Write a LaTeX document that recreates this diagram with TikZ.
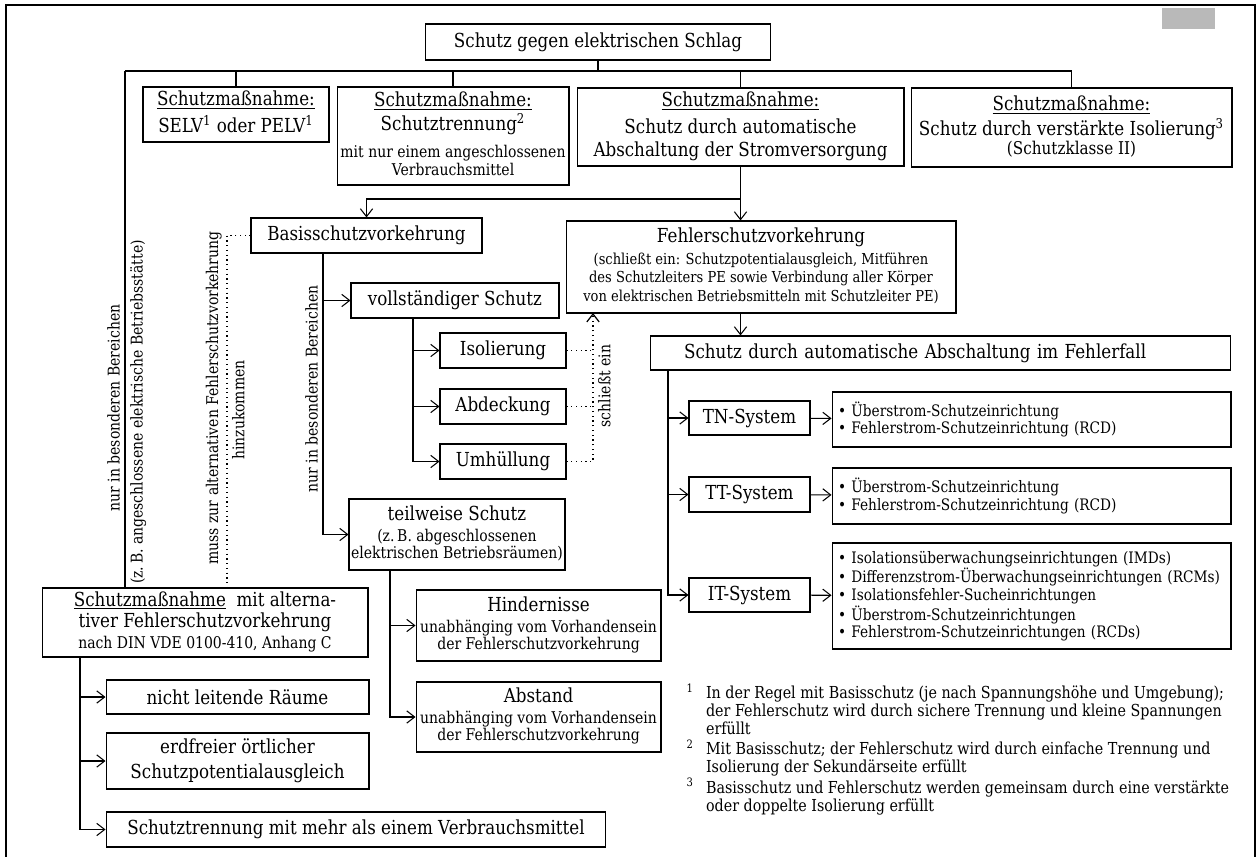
\documentclass[tikz,border=0pt]{standalone}
\usepackage{fontspec}
\setmainfont{DejaVu Serif}[FakeStretch=0.865]
\usetikzlibrary{positioning,arrows.meta}
\newcommand\mainsz{\fontsize{11}{13}\selectfont}
\newcommand\subsz{\fontsize{9.2}{10.4}\selectfont}
\newcommand\smallsz{\fontsize{8.6}{9.6}\selectfont}
\newcommand\lstsz{\fontsize{9}{9.9}\selectfont}
\newcommand\notesz{\fontsize{9.4}{9.9}\selectfont}
\newcommand\rows[1]{{\renewcommand\arraystretch{0.74}\begin{tabular}{@{}c@{}}#1\end{tabular}}}

\begin{document}
\begin{tikzpicture}[x=0.02cm, y=-0.02cm,
    >={Straight Barb[length=4.5pt,width=7pt]}, line width=0.6pt,
    box/.style={draw=black, inner sep=0pt, font=\mainsz},
    lst/.style={draw=black, text width=7.74cm, inner xsep=0.12cm, inner ysep=0pt, align=left, font=\lstsz},
    lbl/.style={rotate=90, inner sep=1.5pt, font=\subsz},
    dotline/.style={dotted, line width=0.7pt}]
    \useasboundingbox (0,0) rectangle (1257,857);
    \draw [line width=1.4pt] (6,857) -- (6,5) -- (1255,5) -- (1255,857);
    \fill [gray!55] (1162,8) rectangle (1215,29);

    % top level
    \node [box, minimum width=6.9cm, minimum height=0.72cm] (title) at (598,42) {Schutz gegen elektrischen Schlag};
    \node [box, minimum width=3.72cm, minimum height=1.1cm] (selv) at (236,114.5) {\rows{\underline{Schutzmaßnahme:}\\[3pt] SELV\textsuperscript{1} oder PELV\textsuperscript{1}}};
    \node [box, minimum width=4.64cm, minimum height=1.96cm] (trenn) at (453,136) {\rows{\underline{Schutzmaßnahme:}\\[1pt] Schutztrennung\textsuperscript{2}\\[6pt] \subsz mit nur einem angeschlossenen\\ \subsz Verbrauchsmittel}};
    \node [box, minimum width=6.54cm, minimum height=1.56cm] (auto) at (740.5,127) {\rows{\underline{Schutzmaßnahme:}\\[4pt] Schutz durch automatische\\[2pt] Abschaltung der Stromversorgung}};
    \node [box, minimum width=6.42cm, minimum height=1.58cm] (iso2) at (1071.5,127.5) {\rows{\underline{Schutzmaßnahme:}\\[2pt] Schutz durch verstärkte Isolierung\textsuperscript{3}\\ \fontsize{10}{11}\selectfont (Schutzklasse II)}};

    % basis / fehler
    \node [box, minimum width=4.62cm, minimum height=0.7cm] (basis) at (366.5,235.5) {Basisschutzvorkehrung};
    \node [box, minimum width=7.8cm, minimum height=1.84cm] (fehler) at (761,267) {\rows{Fehlerschutzvorkehrung\\[3pt] \smallsz (schließt ein: Schutzpotentialausgleich, Mitführen\\[1pt] \smallsz des Schutzleiters PE sowie Verbindung aller Körper\\[1pt] \smallsz von elektrischen Betriebsmitteln mit Schutzleiter PE)}};
    \node [box, minimum width=4.16cm, minimum height=0.7cm] (voll) at (455,300.5) {vollständiger Schutz};
    \node [box, minimum width=2.52cm, minimum height=0.7cm] (isol) at (503,350.5) {Isolierung};
    \node [box, minimum width=2.52cm, minimum height=0.7cm] (abd) at (503,406.5) {Abdeckung};
    \node [box, minimum width=2.52cm, minimum height=0.7cm] (umh) at (503,461.5) {Umhüllung};
    \node [box, minimum width=4.32cm, minimum height=1.42cm] (teil) at (457,534.5) {\rows{teilweise Schutz\\[2pt] \subsz (z.\,B. abgeschlossenen\\ \subsz elektrischen Betriebsräumen)}};
    \node [box, minimum width=4.9cm, minimum height=1.42cm] (hind) at (538.5,625.5) {\rows{Hindernisse\\[2pt] \subsz unabhänging vom Vorhandensein\\ \subsz der Fehlerschutzvorkehrung}};
    \node [box, minimum width=4.9cm, minimum height=1.4cm] (abst) at (538.5,717) {\rows{Abstand\\[2pt] \subsz unabhänging vom Vorhandensein\\ \subsz der Fehlerschutzvorkehrung}};

    % alternative
    \node [box, minimum width=6.52cm, minimum height=1.38cm] (alt) at (205,622.5) {\rows{\underline{Schutzmaßnahme}\ \ mit alterna-\\[1pt] tiver Fehlerschutzvorkehrung\\[2pt] \subsz nach DIN VDE 0100-410, Anhang C}};
    \node [box, minimum width=5.26cm, minimum height=0.68cm] (nlr) at (237.5,697) {nicht leitende Räume};
    \node [box, minimum width=5.26cm, minimum height=1.12cm] (erd) at (237.5,761) {\rows{erdfreier örtlicher\\[3pt] Schutzpotentialausgleich}};
    \node [box, minimum width=10cm, minimum height=0.7cm] (mehr) at (356,829.5) {Schutztrennung mit mehr als einem Verbrauchsmittel};

    % systems
    \node [box, text width=10.26cm, inner xsep=0.68cm, align=left, minimum height=0.68cm] (abschf) at (940.5,353) {Schutz durch automatische Abschaltung im Fehlerfall};
    \node [box, minimum width=2.42cm, minimum height=0.68cm] (tn) at (749.5,418) {TN-System};
    \node [box, minimum width=2.42cm, minimum height=0.7cm] (tt) at (749.5,494.5) {TT-System};
    \node [box, minimum width=2.42cm, minimum height=0.68cm] (it) at (749.5,595) {IT-System};
    \node [lst, minimum height=1.1cm] (tnl) at (1031.5,419.5) {\textbullet\ Überstrom-Schutzeinrichtung\\ \textbullet\ Fehlerstrom-Schutzeinrichtung (RCD)};
    \node [lst, minimum height=1.12cm] (ttl) at (1031.5,496) {\textbullet\ Überstrom-Schutzeinrichtung\\ \textbullet\ Fehlerstrom-Schutzeinrichtung (RCD)};
    \node [lst, minimum height=2.12cm] (itl) at (1031.5,596) {\textbullet\ Isolationsüberwachungseinrichtungen (IMDs)\\ \textbullet\ Differenzstrom-Überwachungseinrichtungen (RCMs)\\ \textbullet\ Isolationsfehler-Sucheinrichtungen\\ \textbullet\ Überstrom-Schutzeinrichtungen\\ \textbullet\ Fehlerstrom-Schutzeinrichtungen (RCDs)};

    % rotated labels
    \node [lbl, anchor=south] (lb1) at (123,408) {nur in besonderen Bereichen};
    \node [lbl, anchor=north] (lb2) at (127,412) {(z.\,B. angeschlossene elektrische Betriebsstätte)};
    \node [lbl, anchor=south] (lm1) at (225,398) {muss zur alternativen Fehlerschutzvorkehrung};
    \node [lbl, anchor=north] (lm2) at (229,410) {hinzukommen};
    \node [lbl, anchor=south] (lb3) at (321,389) {nur in besonderen Bereichen};
    \node [lbl, anchor=north] (lse) at (595,386) {schließt ein};

    % footnotes
    \node [anchor=north west, inner sep=0pt, font=\notesz] (notes) at (686,683) {%
      \begin{tabular}{@{}l@{\hspace{7pt}}l@{}}
      \textsuperscript{1} & In der Regel mit Basisschutz (je nach Spannungshöhe und Umgebung);\\
       & der Fehlerschutz wird durch sichere Trennung und kleine Spannungen\\
       & erfüllt\\
      \textsuperscript{2} & Mit Basisschutz; der Fehlerschutz wird durch einfache Trennung und\\
       & Isolierung der Sekundärseite erfüllt\\
      \textsuperscript{3} & Basisschutz und Fehlerschutz werden gemeinsam durch eine verstärkte\\
       & oder doppelte Isolierung erfüllt
      \end{tabular}};

    % bus
    \coordinate (busL) at (125,71);
    \coordinate (busR) at (1072,71);
    \draw (title) -- (title |- busL);
    \draw (busL) -- (busR);
    \draw (busL) -- (busL |- alt.north);
    \draw (selv) -- (selv |- busL);
    \draw (trenn) -- (trenn |- busL);
    \draw (auto) -- (auto |- busL);
    \draw (iso2) -- (iso2 |- busL);

    \coordinate (split) at (741,199);
    \draw [->] (auto) -- (auto |- fehler.north);
    \draw [->] (auto |- split) -| (basis);
    \draw [->] (fehler.south -| auto) -- (abschf.north -| auto);

    \coordinate (dx) at (227,235.5);
    \draw [dotline] (basis) -- (dx) -- (dx |- alt.north);

    \coordinate (bx) at (323,253);
    \draw [->] (bx) |- (teil);
    \draw [->] (bx |- voll) -- (voll);

    \coordinate (vx) at (413,318);
    \draw [->] (vx) |- (umh);
    \draw [->] (vx |- isol) -- (isol);
    \draw [->] (vx |- abd) -- (abd);

    \coordinate (se) at (593,313);
    \draw [dotline,->] (umh) -| (se);
    \draw [dotline] (isol) -- (isol -| se);
    \draw [dotline] (abd) -- (abd -| se);

    \coordinate (tx) at (390,570);
    \draw [->] (tx) |- (abst);
    \draw [->] (tx |- hind) -- (hind);

    \coordinate (ax) at (80,657);
    \draw [->] (ax) |- (mehr);
    \draw [->] (ax |- nlr) -- (nlr);
    \draw [->] (ax |- erd) -- (erd);

    \coordinate (sx) at (668,370);
    \draw [->] (sx) |- (it);
    \draw [->] (sx |- tn) -- (tn);
    \draw [->] (sx |- tt) -- (tt);

    \path [draw,->] (tn) edge (tnl);
    \path [draw,->] (tt) edge (ttl);
    \path [draw,->] (it) edge (itl);
\end{tikzpicture}
\end{document}
